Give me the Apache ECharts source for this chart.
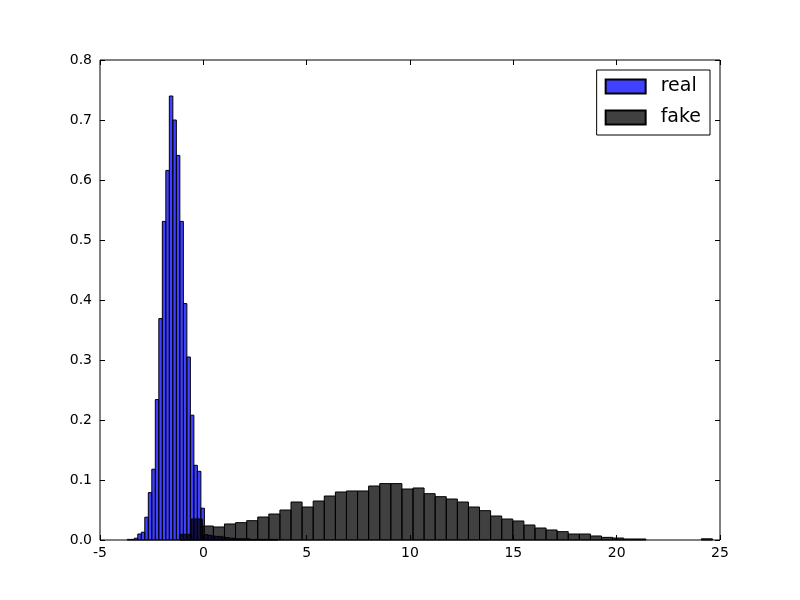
<!DOCTYPE html>
<html>
<head>
<meta charset="utf-8">
<script src="https://cdn.jsdelivr.net/npm/echarts@6/dist/echarts.min.js"></script>
<style>
  html, body { margin: 0; padding: 0; background: #fff; }
  #chart { width: 800px; height: 600px; }
</style>
</head>
<body>
<div id="chart"></div>
<script>
// histogram bins: first left edge, bin width, normed heights
const realStart = -3.68
const realWidth = 0.1696
const realHeights = [
  0.001, 0.001, 0.003, 0.010, 0.013, 0.038, 0.079, 0.118, 0.234, 0.369,
  0.531, 0.616, 0.740, 0.700, 0.641, 0.531, 0.394, 0.305, 0.208, 0.1245,
  0.1145, 0.053, 0.009, 0.008, 0.007, 0.006, 0.006, 0.005, 0.004, 0.003,
  0.003, 0.002, 0.002, 0.002, 0.002, 0.001, 0.001, 0.001, 0.001, 0.001,
  0.001, 0.001, 0.001
]
const fakeStart = -1.124
const fakeWidth = 0.5366
const fakeHeights = [
  0.0095, 0.035, 0.0233, 0.0217, 0.0267, 0.0289, 0.0322, 0.0383, 0.0433, 0.050,
  0.0633, 0.055, 0.065, 0.0733, 0.080, 0.0817, 0.0817, 0.090, 0.094, 0.094,
  0.085, 0.0867, 0.0772, 0.0722, 0.0683, 0.0633, 0.055, 0.0489, 0.040, 0.035,
  0.0317, 0.025, 0.020, 0.0167, 0.0139, 0.010, 0.010, 0.0067, 0.0044, 0.0033,
  0.0017, 0.0017, 0, 0, 0, 0, 0, 0.002
]
const xTicks = [-5, 25, 5]   // min, max, step
const yTicks = [0, 0.8, 0.1]

function toBins(start, width, heights) {
  let out = []
  for (let i = 0; i < heights.length; i++) {
    if (heights[i] > 0) {
      out.push([start + i * width, start + (i + 1) * width, heights[i]])
    }
  }
  return out
}

function renderBar(params, api) {
  const p0 = api.coord([api.value(0), api.value(2)])
  const p1 = api.coord([api.value(1), 0])
  return {
    type: 'rect',
    shape: { x: p0[0], y: p0[1], width: p1[0] - p0[0], height: p1[1] - p0[1] },
    style: api.style()
  }
}

const chart = echarts.init(document.getElementById('chart'))
const font = 'DejaVu Sans'
const tickStyle = { inside: true, length: 5, lineStyle: { color: '#000' } }
const noLine = { show: false, onZero: false }

chart.setOption({
  animation: false,
  textStyle: { fontFamily: font },
  grid: {
    left: 100, right: 80, top: 60, bottom: 60,
    show: true, borderColor: '#000', borderWidth: 1
  },
  legend: {
    orient: 'vertical',
    right: 90,
    top: 70,
    data: ['real', 'fake'],
    icon: 'rect',
    itemWidth: 40,
    itemHeight: 14,
    itemGap: 12,
    padding: [7, 9, 8, 8],
    borderColor: '#000',
    borderWidth: 1,
    backgroundColor: '#fff',
    textStyle: { fontSize: 19, color: '#000', fontFamily: font, padding: [0, 0, 0, 10] }
  },
  xAxis: [
    {
      type: 'value', min: xTicks[0], max: xTicks[1], interval: xTicks[2],
      axisLine: noLine, splitLine: { show: false },
      axisTick: tickStyle,
      axisLabel: { color: '#000', fontSize: 14, margin: 6 }
    },
    {
      type: 'value', position: 'top', min: xTicks[0], max: xTicks[1], interval: xTicks[2],
      axisLine: noLine, splitLine: { show: false },
      axisTick: tickStyle, axisLabel: { show: false }
    }
  ],
  yAxis: [
    {
      type: 'value', min: yTicks[0], max: yTicks[1], interval: yTicks[2],
      axisLine: noLine, splitLine: { show: false },
      axisTick: tickStyle,
      axisLabel: { color: '#000', fontSize: 14, margin: 8, formatter: v => v.toFixed(1) }
    },
    {
      type: 'value', position: 'right', min: yTicks[0], max: yTicks[1], interval: yTicks[2],
      axisLine: noLine, splitLine: { show: false },
      axisTick: tickStyle, axisLabel: { show: false }
    }
  ],
  series: [
    {
      name: 'real',
      type: 'custom',
      renderItem: renderBar,
      encode: { x: [0, 1], y: 2 },
      itemStyle: { color: 'rgba(0,0,255,0.75)', borderColor: '#000', borderWidth: 1 },
      data: toBins(realStart, realWidth, realHeights)
    },
    {
      name: 'fake',
      type: 'custom',
      renderItem: renderBar,
      encode: { x: [0, 1], y: 2 },
      itemStyle: { color: 'rgba(0,0,0,0.75)', borderColor: '#000', borderWidth: 1 },
      data: toBins(fakeStart, fakeWidth, fakeHeights)
    }
  ]
})
</script>
</body>
</html>
